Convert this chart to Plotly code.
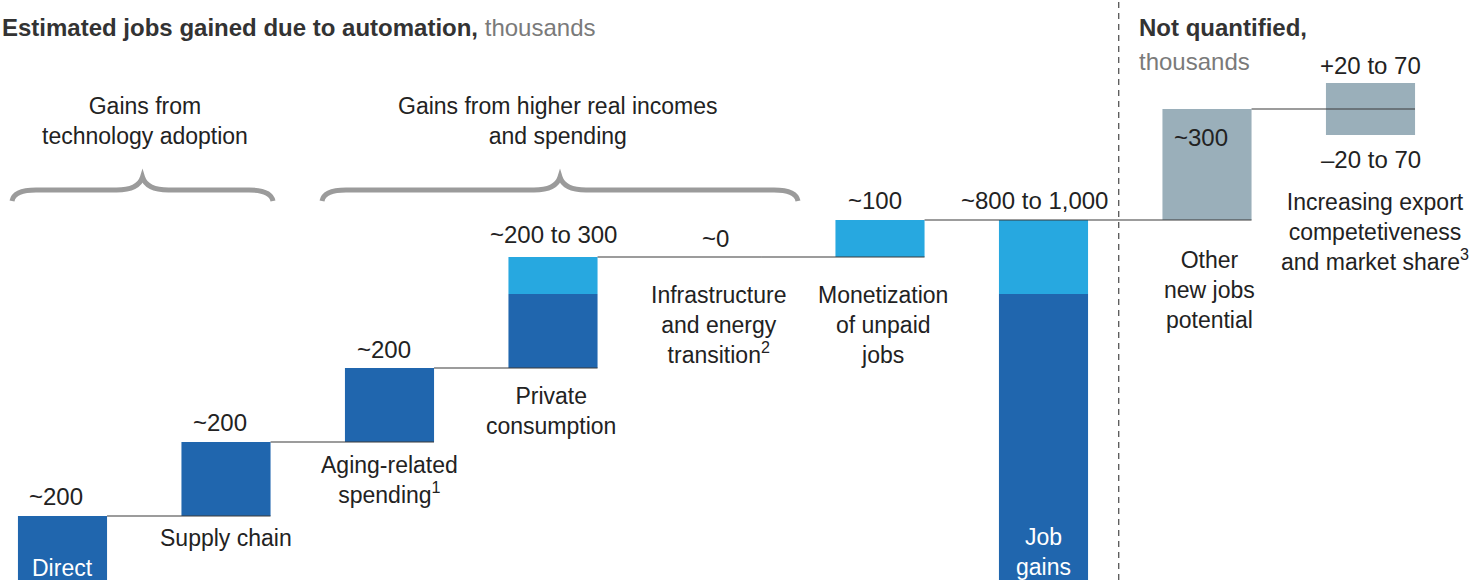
import plotly.graph_objects as go

# ---------------- data ----------------
categories = ["Direct", "Supply chain", "Aging-related<br>spending<sup>1</sup>",
              "Private<br>consumption", "Infrastructure<br>and energy<br>transition<sup>2</sup>",
              "Monetization<br>of unpaid<br>jobs", "Job<br>gains",
              "Other<br>new jobs<br>potential",
              "Increasing export<br>competetiveness<br>and market share<sup>3</sup>"]
value_labels = ["~200", "~200", "~200", "~200 to 300", "~0", "~100",
                "~800 to 1,000", "~300", "+20 to 70"]
export_low_label = "\u201320 to 70"
dark_vals = [200, 200, 200, 200, 0, 0, 800]      # lower-bound contributions
light_vals = [0, 0, 0, 100, 0, 100, 200]         # upper-range contributions
other_val = 300                                  # not quantified: other new jobs
export_range = [-70, 70]                         # export competitiveness range

# ---------------- geometry helpers (pixel <-> data) ----------------
W, H = 1469, 580
X0, DX = 62.5, 163.5
Y0, SY = 590.0, 0.37
def X(px): return (px - X0) / DX
def Y(py): return (Y0 - py) / SY

BW = 0.545
DARK = "#2066AE"
LIGHT = "#27A8E0"
GRAY = "#9AAFBA"
TXT = "#222222"
FONT = "Liberation Sans, Arial, sans-serif"
LBL = 23
VAL = 24

# waterfall bases
bases = []
cum = 0
for i, (d, l) in enumerate(zip(dark_vals, light_vals)):
    if i == 6:  # total bar
        bases.append(0)
    else:
        bases.append(cum)
        cum += d + l
total = cum
tops = [b + d + l for b, d, l in zip(bases, dark_vals, light_vals)]
other_base = total
export_mid = total + other_val

fig = go.Figure()
n = len(dark_vals)
fig.add_trace(go.Bar(x=list(range(n)), y=dark_vals, base=bases, width=BW,
                     marker=dict(color=DARK, line=dict(width=0)), hoverinfo="skip"))
fig.add_trace(go.Bar(x=list(range(n)), y=light_vals,
                     base=[b + d for b, d in zip(bases, dark_vals)], width=BW,
                     marker=dict(color=LIGHT, line=dict(width=0)), hoverinfo="skip"))
fig.add_trace(go.Bar(x=[7, 8], y=[other_val, export_range[1] - export_range[0]],
                     base=[other_base, export_mid + export_range[0]], width=BW,
                     marker=dict(color=GRAY, line=dict(width=0)), hoverinfo="skip"))

# connector lines
levels = []
for i in range(1, 9):
    if i < 6:
        lvl = bases[i]
    elif i == 6:
        lvl = tops[6]
    elif i == 7:
        lvl = other_base
    else:
        lvl = export_mid
    levels.append((i, lvl))
for i, lvl in levels:
    fig.add_trace(go.Scatter(x=[i - 1 + BW / 2, i + BW / 2], y=[lvl, lvl], mode="lines",
                             line=dict(color="#3a3a3a", width=1.2), hoverinfo="skip"))

ann = []
def add(text, x, y, size=LBL, color=TXT, xanchor="center", yanchor="middle"):
    ann.append(dict(text=text, x=x, y=y, xref="x", yref="y", showarrow=False,
                    xanchor=xanchor, yanchor=yanchor,
                    font=dict(family=FONT, size=size, color=color)))

# value labels (above bars)
value_py = [496, 422, 349, 234, 238, 200, 200]
value_dx = [-7, -6, -6, 0, -1, -5, -9]
for i in range(7):
    add(value_labels[i], i + X(X0 + value_dx[i]), Y(value_py[i]), size=VAL)
add(value_labels[7], 7 + X(X0 - 6), Y(137), size=VAL)
add(value_labels[8], 8, Y(65), size=VAL)
add(export_low_label, 8, Y(159), size=VAL)

# category labels
cat_py = [None, 538, 480, 411, 325, 325, None, 290, 232]
cat_dx = [0, 0, 0, -2, 2, 3, 0, 2, 4]
for i, c in enumerate(categories):
    if cat_py[i] is None:
        continue
    add(c, i + X(X0 + cat_dx[i]), Y(cat_py[i]))
add(categories[0], 0, Y(568), color="white")
add(categories[6], 6, Y(552), color="white")

# group labels
add("Gains from<br>technology adoption", X(145), Y(121))
add("Gains from higher real incomes<br>and spending", X(558), Y(121))

# titles
ann.append(dict(text="<b>Estimated jobs gained due to automation,</b> <span style='color:#7a7a7a'>thousands</span>",
                x=0, y=1 - 27 / H, xref="paper", yref="paper", showarrow=False,
                xanchor="left", yanchor="middle", font=dict(family=FONT, size=24, color="#333333")))
ann.append(dict(text="<b>Not quantified,</b>", x=1137 / W, y=1 - 28 / H, xref="paper", yref="paper",
                showarrow=False, xanchor="left", yanchor="middle",
                font=dict(family=FONT, size=24, color="#333333")))
ann.append(dict(text="thousands", x=1137 / W, y=1 - 62 / H, xref="paper", yref="paper",
                showarrow=False, xanchor="left", yanchor="middle",
                font=dict(family=FONT, size=24, color="#7a7a7a")))

# braces
def brace(x1, x2, ytop=177, ymid=190, yend=201):
    xm = (x1 + x2) / 2
    pts = [("M", x1, yend), ("Q", x1 + 2, ymid, x1 + 24, ymid), ("L", xm - 26, ymid),
           ("Q", xm - 4, ymid, xm, ytop), ("Q", xm + 4, ymid, xm + 26, ymid),
           ("L", x2 - 24, ymid), ("Q", x2 - 2, ymid, x2, yend)]
    s = ""
    for p in pts:
        cmd = p[0]
        coords = p[1:]
        parts = []
        for k in range(0, len(coords), 2):
            parts.append(f"{X(coords[k]):.5f},{Y(coords[k+1]):.5f}")
        s += cmd + " " + " ".join(parts) + " "
    return s

shapes = []
for (a, b) in [(12, 273), (322, 798)]:
    shapes.append(dict(type="path", path=brace(a, b), xref="x", yref="y",
                       line=dict(color="#9b9b9b", width=5), layer="above"))
# divider
shapes.append(dict(type="line", x0=6.46, x1=6.46, y0=0, y1=1, xref="x", yref="paper",
                   line=dict(color="#555555", width=1.3, dash="6px,5px")))

fig.update_layout(
    width=W, height=H, margin=dict(l=0, r=0, t=0, b=0),
    paper_bgcolor="white", plot_bgcolor="white",
    barmode="overlay", showlegend=False,
    xaxis=dict(range=[X(0), X(W)], visible=False, fixedrange=True),
    yaxis=dict(range=[Y(H), Y(0)], visible=False, fixedrange=True),
    annotations=ann, shapes=shapes,
)
fig.write_html("out.html")
